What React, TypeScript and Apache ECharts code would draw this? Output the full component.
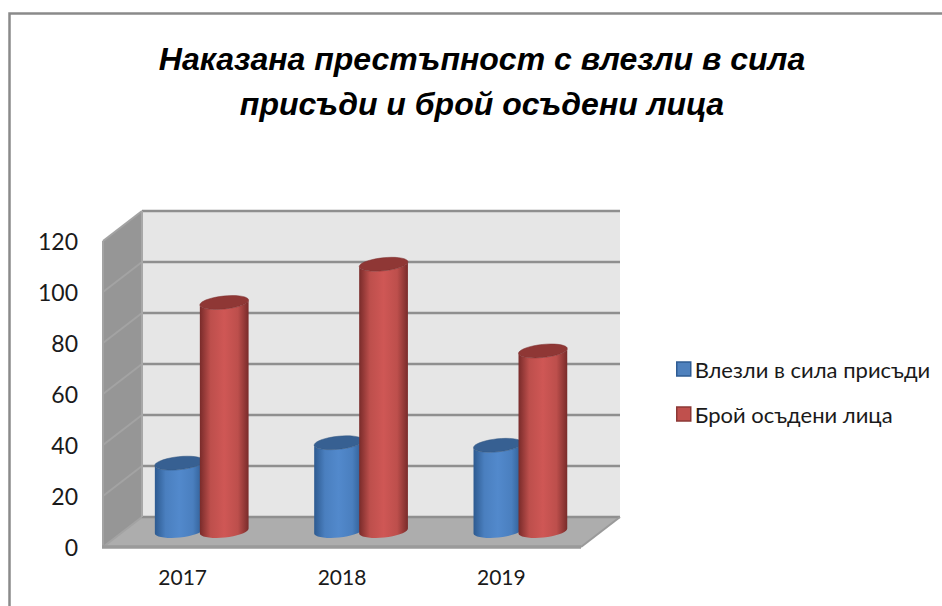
import React, { useEffect, useRef } from "react";
import * as echarts from "echarts";

const titleText = "Наказана престъпност с влезли в сила\nприсъди и брой осъдени лица";
const categories = ["2017", "2018", "2019"];
const ticks = [0, 20, 40, 60, 80, 100, 120];
const sentences = [27, 35, 34];
const convicted = [90, 105, 71];
const seriesNames = ["Влезли в сила присъди", "Брой осъдени лица"];

const DEPTH_X = 39;
const DEPTH_Y = -30;
const RX = 24.5;
const RY = 6.5;
const TILT = (-6 * Math.PI) / 180;
const FONT = "Lato";

function ellipsePoint(cx: number, cy: number, deg: number) {
  const t = (deg * Math.PI) / 180;
  const a = RX * Math.cos(t);
  const b = RY * Math.sin(t);
  return [cx + a * Math.cos(TILT) - b * Math.sin(TILT), cy + a * Math.sin(TILT) + b * Math.cos(TILT)];
}

function cylinder(offset: number, stops: string[], topColor: string, edge: string) {
  return (params: any, api: any) => {
    const base = api.coord([api.value(0), 0]);
    const top = api.coord([api.value(0), api.value(1)]);
    const cx = base[0] + DEPTH_X * 0.45 + offset;
    const by = base[1] + DEPTH_Y / 2 - 1;
    const ty = top[1] + DEPTH_Y / 2;
    const pts: number[][] = [];
    for (let d = 180; d >= 0; d -= 10) pts.push(ellipsePoint(cx, ty, d));
    for (let d = 0; d <= 180; d += 10) pts.push(ellipsePoint(cx, by, d));
    const cap: number[][] = [];
    for (let d = 0; d < 360; d += 10) cap.push(ellipsePoint(cx, ty, d));
    return {
      type: "group",
      children: [
        {
          type: "polygon",
          shape: { points: pts },
          style: {
            fill: new echarts.graphic.LinearGradient(0, 0, 1, 0, [
              { offset: 0, color: stops[0] },
              { offset: 0.22, color: stops[1] },
              { offset: 0.5, color: stops[2] },
              { offset: 0.78, color: stops[1] },
              { offset: 1, color: stops[0] },
            ]),
          },
        },
        { type: "polygon", shape: { points: cap }, style: { fill: topColor, stroke: edge, lineWidth: 0.5 } },
      ],
    };
  };
}

function walls(params: any, api: any) {
  const cs = params.coordSys;
  const left = cs.x;
  const right = cs.x + cs.width;
  const y0 = api.coord([0, 0])[1];
  const yTop = api.coord([0, ticks[ticks.length - 1]])[1];
  const gray = "#8f8f8f";
  const line = (x1: number, y1: number, x2: number, y2: number, w = 2.6, c = gray) => ({
    type: "line",
    shape: { x1, y1, x2, y2 },
    style: { stroke: c, lineWidth: w, fill: "none" },
  });
  const bx = left + DEPTH_X;
  const brx = right + DEPTH_X;
  const children: any[] = [
    {
      type: "polygon",
      shape: { points: [[bx, yTop + DEPTH_Y], [brx, yTop + DEPTH_Y], [brx, y0 + DEPTH_Y], [bx, y0 + DEPTH_Y]] },
      style: { fill: "#e6e6e6" },
    },
    {
      type: "polygon",
      shape: { points: [[left, yTop], [bx, yTop + DEPTH_Y], [bx, y0 + DEPTH_Y], [left, y0]] },
      style: { fill: "#969696" },
    },
    {
      type: "polygon",
      shape: { points: [[left, y0], [bx, y0 + DEPTH_Y], [brx, y0 + DEPTH_Y], [right, y0]] },
      style: { fill: "#adadad" },
    },
  ];
  ticks.forEach((t) => {
    const y = api.coord([0, t])[1];
    children.push(line(left, y, bx, y + DEPTH_Y, 2, "#a3a3a3"));
    children.push(line(bx, y + DEPTH_Y, brx, y + DEPTH_Y));
  });
  children.push(line(left, yTop, left, y0, 2, "#a3a3a3"));
  children.push(line(bx, yTop + DEPTH_Y, bx, y0 + DEPTH_Y, 2, "#a8a8a8"));
  children.push(line(left - 1, y0, right, y0, 3.5, "#9a9a9a"));
  children.push(line(right, y0, brx, y0 + DEPTH_Y, 2, "#9a9a9a"));
  return { type: "group", children };
}

export default function App() {
  const ref = useRef<HTMLDivElement>(null);
  useEffect(() => {
    const chart = echarts.init(ref.current!, null, { renderer: "svg" });
    chart.setOption({
      animation: false,
      backgroundColor: "#ffffff",
      title: {
        text: titleText,
        left: 477,
        top: 31,
        textAlign: "center",
        textStyle: {
          fontFamily: "Liberation Sans",
          fontSize: 32,
          fontWeight: "bold",
          fontStyle: "italic",
          color: "#000000",
          lineHeight: 45,
        },
      },
      graphic: [
        {
          type: "polyline",
          shape: { points: [[9.5, 606], [9.5, 13.5], [942, 13.5]] },
          style: { stroke: "#8a8a8a", lineWidth: 2.5, fill: "none" },
        },
      ],
      grid: { left: 103, top: 241, width: 478, height: 306, containLabel: false },
      xAxis: {
        type: "category",
        data: categories,
        axisLine: { show: false },
        axisTick: { show: false },
        axisLabel: { fontFamily: FONT, fontSize: 21, color: "#1a1a1a", margin: 19 },
      },
      yAxis: {
        type: "value",
        min: 0,
        max: 120,
        interval: 20,
        axisLine: { show: false },
        axisTick: { show: false },
        splitLine: { show: false },
        axisLabel: { fontFamily: FONT, fontSize: 23, color: "#1a1a1a", margin: 25, padding: [0, 0, 3, 0] },
      },
      legend: {
        orient: "vertical",
        left: 671,
        top: 353,
        itemWidth: 14,
        itemHeight: 14,
        itemGap: 23,
        selectedMode: false,
        textStyle: { fontFamily: FONT, fontSize: 22, color: "#1a1a1a", padding: [0, 0, 0, -1] },
        data: [
          { name: seriesNames[0], icon: "rect", itemStyle: { color: "#4f81bd", borderColor: "#2f5c93", borderWidth: 1.5 } },
          { name: seriesNames[1], icon: "rect", itemStyle: { color: "#c0504d", borderColor: "#8c3836", borderWidth: 1.5 } },
        ],
      },
      series: [
        {
          type: "custom",
          name: "walls",
          z: 1,
          silent: true,
          renderItem: walls,
          data: [[categories[0], 0]],
          encode: { x: 0, y: 1 },
        },
        {
          type: "custom",
          name: seriesNames[0],
          z: 2,
          itemStyle: { color: "#4f81bd" },
          renderItem: cylinder(-21, ["#2d5a90", "#4a7fbf", "#5289cc"], "#376092", "#30557f"),
          data: categories.map((c, i) => [c, sentences[i]]),
          encode: { x: 0, y: 1 },
        },
        {
          type: "custom",
          name: seriesNames[1],
          z: 3,
          itemStyle: { color: "#c0504d" },
          renderItem: cylinder(24, ["#792b2a", "#bd4f4c", "#cf5755"], "#8f3735", "#7d2f2e"),
          data: categories.map((c, i) => [c, convicted[i]]),
          encode: { x: 0, y: 1 },
        },
      ],
    });
    return () => chart.dispose();
  }, []);
  return <div ref={ref} style={{ position: "absolute", left: 0, top: 0, width: 942, height: 606 }} />;
}
